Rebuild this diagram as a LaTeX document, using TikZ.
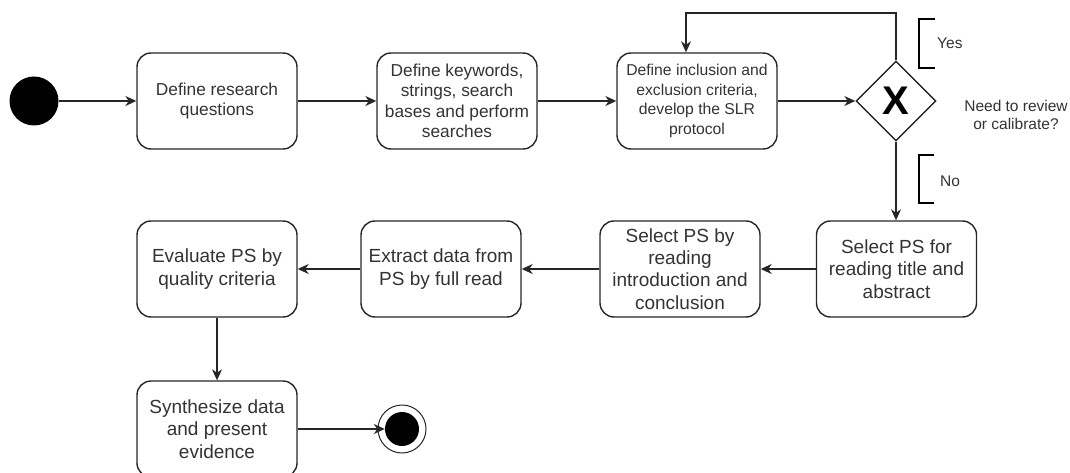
\documentclass[tikz,border=0pt]{standalone}
\usepackage{fontspec}
\setmainfont{Liberation Sans}
\usetikzlibrary{shapes.geometric,arrows.meta}
\definecolor{ink}{HTML}{262626}
\definecolor{txt}{HTML}{333333}

\begin{document}
\begin{tikzpicture}[x=1pt,y=-1pt,
  act/.style={draw=ink, line width=1.4pt, rounded corners=14pt,
    minimum width=160pt, minimum height=96pt, inner sep=0pt,
    align=center, text=txt},
  topfont/.style={font=\fontsize{17.3}{20.5}\selectfont},
  lowfont/.style={font=\fontsize{19}{22.4}\selectfont},
  note/.style={text=txt, font=\fontsize{15.5}{18}\selectfont, inner sep=0pt},
  flow/.style={draw=ink, line width=1.4pt,
    -{Stealth[length=11pt,width=10pt,inset=3.5pt]}},
  brk/.style={draw=black, line width=2.6pt},
  startdot/.style={circle, fill=black, minimum size=49pt, inner sep=0pt},
  enddot/.style={circle, fill=black, minimum size=34pt, inner sep=0pt},
  endring/.style={circle, draw=ink, line width=1pt, minimum size=48pt, inner sep=0pt},
  gate/.style={diamond, draw=ink, line width=1.4pt, minimum width=80pt,
    minimum height=80pt, inner sep=0pt, aspect=1,
    font=\fontsize{40}{40}\selectfont\bfseries}]

\useasboundingbox (0,0) rectangle (1070,473);

% start and end of the activity
\node[startdot] (start) at (34,101) {};
\node[endring] (endring) at (402,429) {};
\node[enddot] (endin) at (402,429) {};

% first row: planning
\node[act, topfont] (rq) at (217,101) {Define research\\questions};
\node[act, topfont] (kw) at (457,101) {Define keywords,\\strings, search\\bases and perform\\searches};
\node[act, font=\fontsize{15.7}{19.5}\selectfont] (crit) at (697,101)
  {Define inclusion and\\exclusion criteria,\\develop the SLR\\protocol};
\node[gate] (dec) at (896,101) {X};

% second row: selection and extraction
\node[act, lowfont] (sel1) at (896.5,269) {Select PS for\\reading title and\\abstract};
\node[act, lowfont] (sel2) at (680,269) {Select PS by\\reading\\introduction and\\conclusion};
\node[act, lowfont] (ext) at (441,269) {Extract data from\\PS by full read};
\node[act, lowfont] (eval) at (217,269) {Evaluate PS by\\quality criteria};

% third row: synthesis
\node[act, lowfont] (syn) at (217,429) {Synthesize data\\and present\\evidence};

% decision guards and question
\node[note, anchor=west] (yes) at (937,43) {Yes};
\node[note, anchor=west] (no) at (940,181) {No};
\node[note, align=center] (ask) at (1016,115) {Need to review\\or calibrate?};
\draw[brk] (935,19) -- (919,19) -- (919,68) -- (935,68);
\draw[brk] (934,155) -- (919,155) -- (919,203) -- (934,203);

% control flow
\coordinate (loop) at (686,13);
\draw[flow] (start) -- (rq);
\draw[flow] (rq) -- (kw);
\draw[flow] (kw) -- (crit);
\draw[flow] (crit.east) -- (dec.west);
\draw[flow] (dec.north) |- (loop) -- (loop |- crit.north);
\draw[flow] (dec.south) -- (dec.south |- sel1.north);
\draw[flow] (sel1) -- (sel2);
\draw[flow] (sel2) -- (ext);
\draw[flow] (ext) -- (eval);
\draw[flow] (eval) -- (syn);
\draw[flow] (syn.east |- endin) -- (endin.west);
\end{tikzpicture}
\end{document}
